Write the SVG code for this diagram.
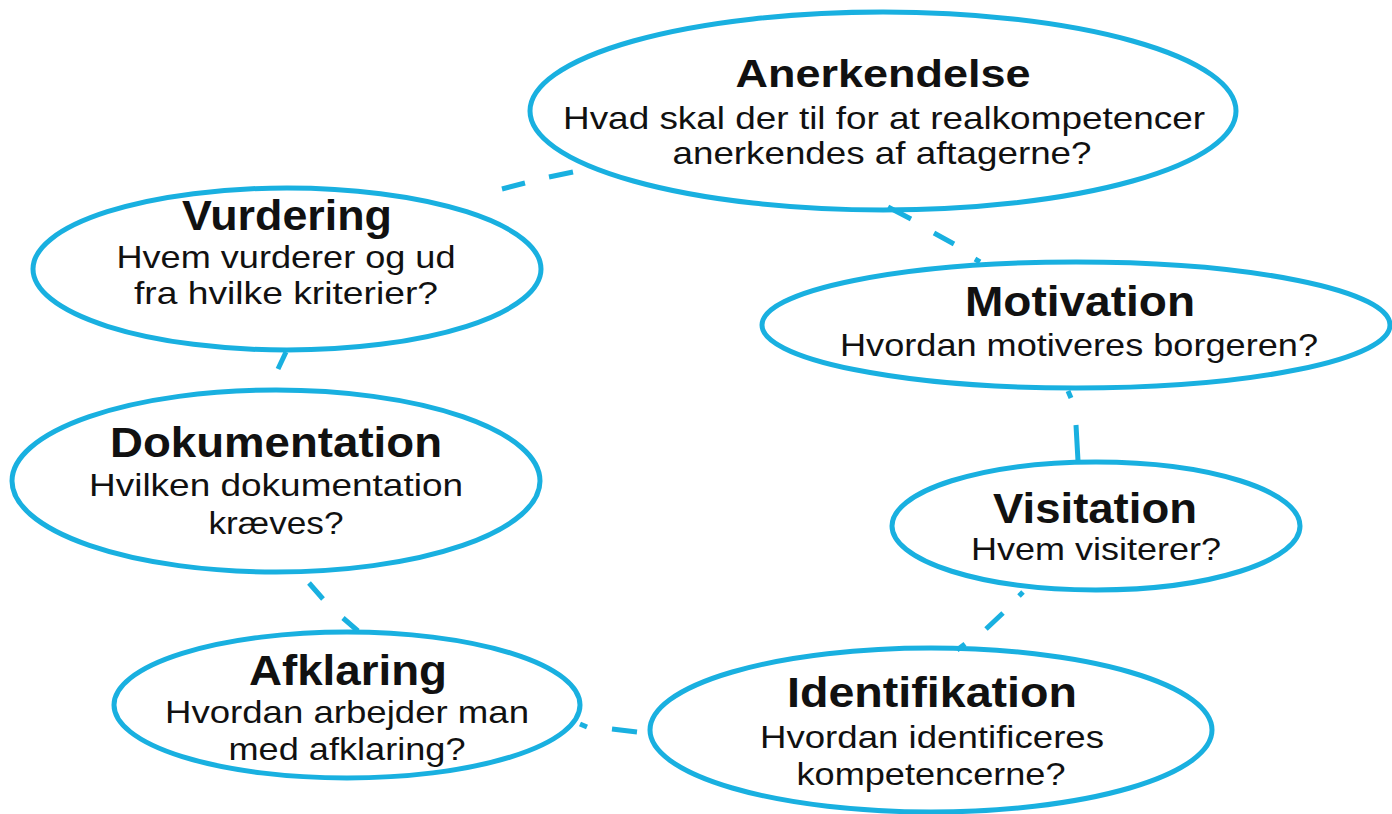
<svg xmlns="http://www.w3.org/2000/svg" width="1392" height="814" viewBox="0 0 1392 814">
<style>
.bg{fill:#ffffff}
.conn{fill:none;stroke:#19b0e0;stroke-width:5;stroke-linecap:butt}
.node ellipse{fill:none;stroke:#19b0e0;stroke-width:5}
.t{font-family:"Liberation Sans",Arial,sans-serif;font-weight:bold;font-size:43px;fill:#111;text-anchor:middle}
.b{font-family:"Liberation Sans",Arial,sans-serif;font-size:32px;fill:#111;text-anchor:middle}
</style>
<rect class="bg" x="0" y="0" width="1392" height="814"/>
<g id="connectors">
<path class="conn" d="M502,189 L525,183 M549,177 L573,172"/>
<path class="conn" d="M888,207 L911,219 M934,233 L954,244 M975,259 L980,262"/>
<path class="conn" d="M1068,391 L1071,398 M1076,425 L1078,461"/>
<path class="conn" d="M1023,592 L1019,596 M1003,613 L986,629 M965,644 L957,650"/>
<path class="conn" d="M580,724 L587,727 M612,729 L637,732"/>
<path class="conn" d="M309,583 L323,599 M343,618 L358,631"/>
<path class="conn" d="M286,352 L278,369"/>
</g>
<g id="anerkendelse" class="node">
<ellipse cx="883" cy="111" rx="353" ry="99"/>
<text class="t" x="883" y="87" style="font-size:39px" textLength="295" lengthAdjust="spacingAndGlyphs">Anerkendelse</text>
<text class="b" x="884" y="129" textLength="642" lengthAdjust="spacingAndGlyphs">Hvad skal der til for at realkompetencer</text>
<text class="b" x="882" y="164" textLength="419" lengthAdjust="spacingAndGlyphs">anerkendes af aftagerne?</text>
</g>
<g id="vurdering" class="node">
<ellipse cx="287" cy="269" rx="254" ry="81"/>
<text class="t" x="287" y="230" textLength="210" lengthAdjust="spacingAndGlyphs">Vurdering</text>
<text class="b" x="286" y="268" textLength="339" lengthAdjust="spacingAndGlyphs">Hvem vurderer og ud</text>
<text class="b" x="286" y="304" textLength="304" lengthAdjust="spacingAndGlyphs">fra hvilke kriterier?</text>
</g>
<g id="motivation" class="node">
<ellipse cx="1076" cy="325" rx="314" ry="63"/>
<text class="t" x="1080" y="316" textLength="230" lengthAdjust="spacingAndGlyphs">Motivation</text>
<text class="b" x="1079" y="356" textLength="478" lengthAdjust="spacingAndGlyphs">Hvordan motiveres borgeren?</text>
</g>
<g id="dokumentation" class="node">
<ellipse cx="276" cy="481" rx="264" ry="91"/>
<text class="t" x="276" y="457" textLength="332" lengthAdjust="spacingAndGlyphs">Dokumentation</text>
<text class="b" x="276" y="496" textLength="374" lengthAdjust="spacingAndGlyphs">Hvilken dokumentation</text>
<text class="b" x="276" y="534" textLength="135" lengthAdjust="spacingAndGlyphs">kræves?</text>
</g>
<g id="visitation" class="node">
<ellipse cx="1096" cy="526" rx="204" ry="64"/>
<text class="t" x="1095" y="523" textLength="204" lengthAdjust="spacingAndGlyphs">Visitation</text>
<text class="b" x="1096" y="560" textLength="250" lengthAdjust="spacingAndGlyphs">Hvem visiterer?</text>
</g>
<g id="afklaring" class="node">
<ellipse cx="347" cy="705" rx="233" ry="73"/>
<text class="t" x="348" y="685" textLength="198" lengthAdjust="spacingAndGlyphs">Afklaring</text>
<text class="b" x="347" y="723" textLength="364" lengthAdjust="spacingAndGlyphs">Hvordan arbejder man</text>
<text class="b" x="347" y="760" textLength="237" lengthAdjust="spacingAndGlyphs">med afklaring?</text>
</g>
<g id="identifikation" class="node">
<ellipse cx="931" cy="730" rx="281" ry="82"/>
<text class="t" x="932" y="707" textLength="290" lengthAdjust="spacingAndGlyphs">Identifikation</text>
<text class="b" x="932" y="748" textLength="344" lengthAdjust="spacingAndGlyphs">Hvordan identificeres</text>
<text class="b" x="931" y="785" textLength="269" lengthAdjust="spacingAndGlyphs">kompetencerne?</text>
</g>
</svg>
